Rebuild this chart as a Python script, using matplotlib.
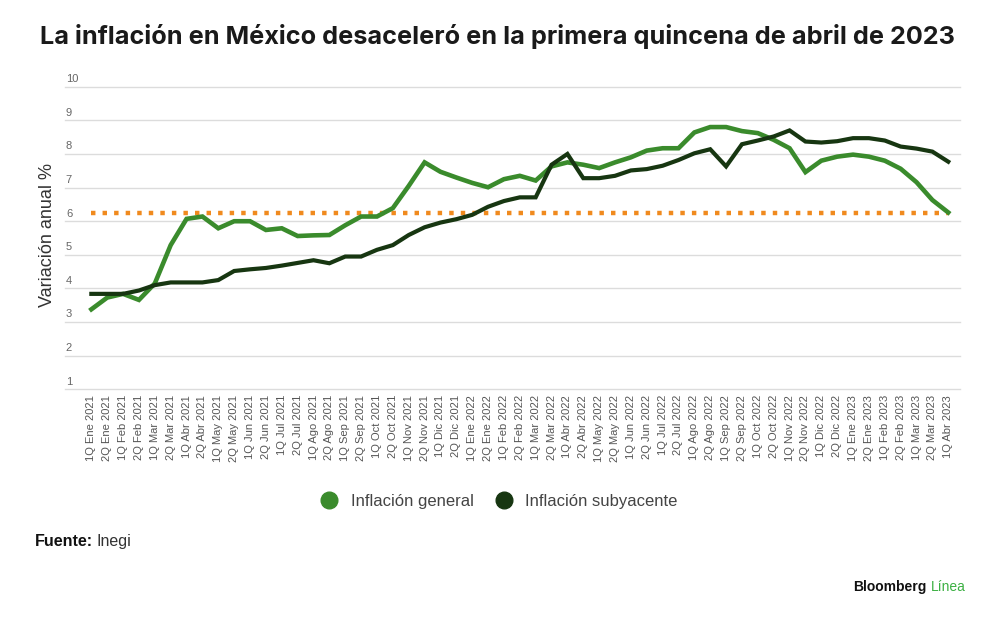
import matplotlib.pyplot as plt
from matplotlib.lines import Line2D
import matplotlib.transforms as mtransforms

# etiquetas quincenales (1Q Ene 2021 ... 1Q Abr 2023)
meses = ['Ene', 'Feb', 'Mar', 'Abr', 'May', 'Jun', 'Jul', 'Ago', 'Sep', 'Oct', 'Nov', 'Dic']
quincenas = []
for anio in [2021, 2022, 2023]:
    for mes in meses:
        for q in ['1Q', '2Q']:
            quincenas.append('{} {} {}'.format(q, mes, anio))
quincenas = quincenas[:quincenas.index('1Q Abr 2023') + 1]

general = [3.38, 3.73, 3.84, 3.66, 4.15, 5.29, 6.07, 6.14, 5.79, 6.00,
           6.00, 5.74, 5.79, 5.56, 5.58, 5.59, 5.88, 6.14, 6.14, 6.39,
           7.05, 7.75, 7.47, 7.30, 7.14, 7.01, 7.25, 7.35, 7.21, 7.63,
           7.75, 7.68, 7.58, 7.75, 7.90, 8.10, 8.17, 8.17, 8.64, 8.80,
           8.80, 8.68, 8.62, 8.42, 8.17, 7.46, 7.80, 7.92, 7.98, 7.92,
           7.80, 7.56, 7.16, 6.63, 6.26]
subyacente = [3.84, 3.84, 3.84, 3.94, 4.10, 4.18, 4.18, 4.18, 4.25, 4.52,
              4.57, 4.61, 4.68, 4.76, 4.84, 4.75, 4.95, 4.95, 5.15, 5.29,
              5.59, 5.82, 5.96, 6.06, 6.19, 6.43, 6.60, 6.71, 6.71, 7.68,
              8.00, 7.28, 7.28, 7.35, 7.51, 7.55, 7.65, 7.82, 8.02, 8.14,
              7.63, 8.29, 8.40, 8.52, 8.70, 8.37, 8.34, 8.38, 8.47, 8.47,
              8.40, 8.22, 8.16, 8.07, 7.77]
referencia = 6.25
y_ticks = [1, 2, 3, 4, 5, 6, 7, 8, 9, 10]

c_general = '#3a8b2c'
c_suby = '#173611'
c_ref = '#f08a1e'

plt.rcParams['font.family'] = ['Liberation Sans', 'DejaVu Sans']

fig = plt.figure(figsize=(10, 6.22), dpi=100)
ax = fig.add_axes([0.065, 0.374, 0.895, 0.4866])

x = list(range(len(quincenas)))
ax.plot([x[0], x[-1]], [referencia, referencia], color=c_ref, lw=3.2,
        linestyle=(0, (1, 1.6)), dash_capstyle='butt', zorder=2)
ax.plot(x, general, color=c_general, lw=3.3, solid_joinstyle='miter', zorder=3)
ax.plot(x, subyacente, color=c_suby, lw=3.0, solid_joinstyle='miter', zorder=4)

ax.set_xlim(-1.66, len(quincenas) - 1 + 0.74)
ax.set_ylim(1, 10)
ax.set_yticks(y_ticks)
ax.set_yticklabels([])
for v in y_ticks:
    ax.axhline(v, color='#dcdcdc', lw=1, zorder=0, clip_on=False)
ax.tick_params(length=0)
for s in ax.spines.values():
    s.set_visible(False)

trans = mtransforms.blended_transform_factory(ax.transAxes, ax.transData)
for v in y_ticks:
    ax.text(0.001, v + 0.08, str(v), transform=trans, ha='left', va='bottom',
            fontsize=8, color='#666666')

ax.set_xticks(x)
ax.set_xticklabels(quincenas, rotation=90, fontsize=8, color='#555555')
ax.tick_params(axis='x', pad=4)

fig.text(0.047, 0.622, 'Variación anual %', rotation=90, ha='center', va='center',
         fontsize=13, color='#333333')

fig.text(0.497, 0.941, 'La inflación en México desaceleró en la primera quincena de abril de 2023',
         ha='center', va='center', fontsize=18.2, fontweight='bold', color='#1a1a1a',
         family=['Inter', 'DejaVu Sans'])

handles = [Line2D([], [], marker='o', ls='', color=c_general, markersize=12),
           Line2D([], [], marker='o', ls='', color=c_suby, markersize=12)]
fig.legend(handles, ['Inflación general', 'Inflación subyacente'], loc='center',
           bbox_to_anchor=(0.495, 0.194), ncol=2, frameon=False, fontsize=12,
           handletextpad=0.3, columnspacing=0.8, labelcolor='#444444')

t1 = fig.text(0.035, 0.13, 'Fuente:', ha='left', va='center', fontsize=11.5,
              fontweight='bold', color='#111111')
fig.canvas.draw()
bb = t1.get_window_extent()
fig.text(bb.x1 / fig.bbox.width + 0.003, 0.13, 'Inegi', ha='left', va='center',
         fontsize=11.5, color='#333333')

t2 = fig.text(0.853, 0.057, 'Bloomberg', ha='left', va='center', fontsize=10,
              fontweight='bold', color='#111111')
fig.canvas.draw()
bb2 = t2.get_window_extent()
fig.text(bb2.x1 / fig.bbox.width + 0.004, 0.057, 'Línea', ha='left', va='center',
         fontsize=10, color='#3cb043')

fig.savefig('out.png', dpi=100, facecolor='white')
